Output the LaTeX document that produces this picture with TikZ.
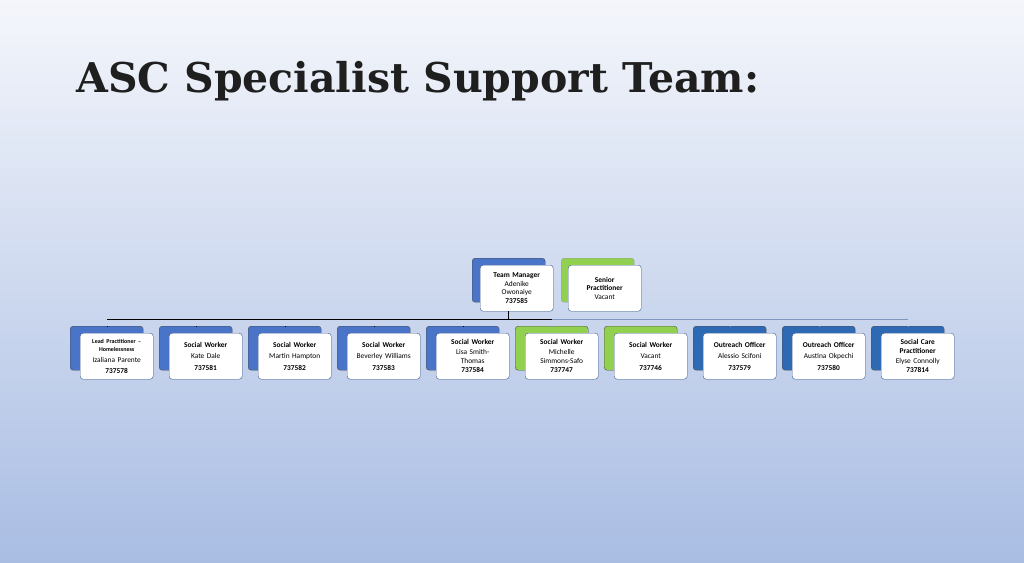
\documentclass[tikz,border=0pt]{standalone}
\usepackage{fontspec}
\setmainfont{Carlito}
\newfontfamily\titlefont{DejaVu Serif}
\usetikzlibrary{positioning}
\definecolor{bgtop}{HTML}{F4F6FB}
\definecolor{bgbot}{HTML}{A9BDE3}
\definecolor{backblue}{HTML}{4A74C8}
\definecolor{backdark}{HTML}{2E6AB4}
\definecolor{backgreen}{HTML}{92D050}
\definecolor{frameblue}{HTML}{3C5A8C}
\definecolor{linegray}{HTML}{7F95C0}
\tikzset{
    backbox/.style={
        rectangle,
        draw=black!70,
        rounded corners=3pt,
        minimum width=73pt,
        minimum height=44pt,
        anchor=north west
    },
    frontbox/.style={
        rectangle,
        draw=frameblue,
        rounded corners=3pt,
        fill=white,
        minimum width=73pt,
        minimum height=46pt,
        text width=72pt,
        align=center,
        inner sep=0.5pt,
        font=\fontsize{7.4}{8.6}\selectfont,
        anchor=north west
    },
    connector/.style={
        draw=black,
        line width=1pt
    },
    thinline/.style={
        draw=linegray,
        line width=0.6pt
    }
}
\begin{document}
\begin{tikzpicture}[x=1pt,y=-1pt]
\shade[top color=bgtop,bottom color=bgbot] (0,0) rectangle (1024,562);
\useasboundingbox (0,0) rectangle (1024,562);

\node[anchor=west, font=\titlefont\bfseries\fontsize{41}{46}\selectfont, text=black!88, inner sep=0pt] (title) at (76,81) {ASC Specialist Support Team:};

% top row
\node[backbox, fill=backblue] (tmb) at (472,258) {};
\node[frontbox] (tm) at (480,265) {\textbf{Team Manager}\\Adenike\\Owonaiye\\\textbf{737585}};
\node[backbox, fill=backgreen, draw=black!40] (spb) at (561,258) {};
\node[frontbox] (sp) at (568,265) {\textbf{Senior}\\\textbf{Practitioner}\\Vacant};

\coordinate (bar) at (508,319);
\coordinate (barL) at (107,319);
\coordinate (barM) at (552,319);
\coordinate (barR) at (908,319);
\draw[thinline] (barM) -- (barR);
\draw[connector] (tm.south -| bar) -- (bar);
\draw[connector] (barL) -- (barM);

% bottom row
\foreach \i/\col/\txt in {
  0/backblue/{\textbf{\fontsize{6}{7}\selectfont Lead Practitioner --}\\\textbf{\fontsize{6}{7}\selectfont Homelessness}\\[2pt]Izaliana Parente\\[2pt]\textbf{737578}},
  1/backblue/{\textbf{Social Worker}\\[3pt]Kate Dale\\[3pt]\textbf{737581}},
  2/backblue/{\textbf{Social Worker}\\[3pt]Martin Hampton\\[3pt]\textbf{737582}},
  3/backblue/{\textbf{Social Worker}\\[3pt]Beverley Williams\\[3pt]\textbf{737583}},
  4/backblue/{\textbf{Social Worker}\\[1pt]Lisa Smith-\\Thomas\\[1pt]\textbf{737584}},
  5/backgreen/{\textbf{Social Worker}\\[1pt]Michelle\\Simmons-Safo\\[1pt]\textbf{737747}},
  6/backgreen/{\textbf{Social Worker}\\[3pt]Vacant\\[3pt]\textbf{737746}},
  7/backdark/{\textbf{Outreach Officer}\\[3pt]Alessio Scifoni\\[3pt]\textbf{737579}},
  8/backdark/{\textbf{Outreach Officer}\\[3pt]Austina Okpechi\\[3pt]\textbf{737580}},
  9/backdark/{\textbf{Social Care}\\\textbf{Practitioner}\\[1pt]Elyse Connolly\\[1pt]\textbf{737814}}} {
  \node[backbox, fill=\col] (b\i) at (70+89*\i,326) {};
  \node[frontbox] (f\i) at (80+89*\i,333) {\txt};
  \ifnum\i<5
    \draw[connector, line width=0.6pt] (b\i.north -| {107+89*\i},319) -- (b\i.north);
  \else
    \draw[thinline] (b\i.north -| {107+89*\i},319) -- (b\i.north);
  \fi
}
\end{tikzpicture}
\end{document}
